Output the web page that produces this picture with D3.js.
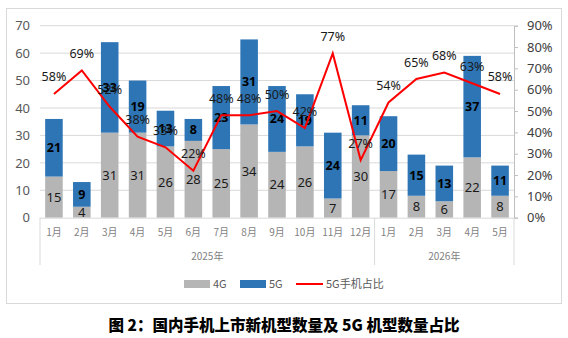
<!DOCTYPE html>
<html>
<head>
<meta charset="utf-8">
<script src="https://cdn.jsdelivr.net/npm/d3@7"></script>
<style>
  body { margin: 0; background: #fff; }
  svg { display: block; font-family: 'Noto Sans CJK SC', 'Noto Sans', sans-serif; }
</style>
</head>
<body>
<svg id="chart" width="568" height="338"></svg>
<script>
const months = ['1月', '2月', '3月', '4月', '5月', '6月', '7月', '8月', '9月', '10月', '11月', '12月',
  '1月', '2月', '3月', '4月', '5月']
const years = ['2025年', '2026年']
const yearOf = [0, 0, 0, 0, 0, 0, 0, 0, 0, 0, 0, 0, 1, 1, 1, 1, 1]
const g4 = [15, 4, 31, 31, 26, 28, 25, 34, 24, 26, 7, 30, 17, 8, 6, 22, 8]
const g5 = [21, 9, 33, 19, 13, 8, 23, 31, 24, 19, 24, 11, 20, 15, 13, 37, 11]
const share = [0.58, 0.69, 0.52, 0.38, 0.33, 0.22, 0.48, 0.48, 0.50, 0.42, 0.77, 0.27,
  0.54, 0.65, 0.68, 0.63, 0.58]
const leftTicks = [0, 10, 20, 30, 40, 50, 60, 70]
const rightTicks = [0, 0.1, 0.2, 0.3, 0.4, 0.5, 0.6, 0.7, 0.8, 0.9]

const colors = { g4: '#b5b5b5', g5: '#2e75b6', line: '#ff0000' }

const svg = d3.select('#chart')
const plot = { left: 40, right: 514, top: 25.7, bottom: 217.7 }

// outer frame
svg.append('rect')
  .attr('x', 6.5).attr('y', 8.5).attr('width', 555).attr('height', 295)
  .attr('fill', 'none').attr('stroke', '#d9d9d9')

const idx = d3.range(months.length)
const x = d3.scaleBand().domain(idx).range([plot.left, plot.right]).paddingInner(0.37).paddingOuter(0.185)
const y = d3.scaleLinear().domain([0, 70]).range([plot.bottom, plot.top])
const y2 = d3.scaleLinear().domain([0, 0.9]).range([plot.bottom, plot.top])

// grid
svg.append('g').selectAll('line').data(leftTicks.slice(1)).join('line')
  .attr('x1', plot.left).attr('x2', plot.right)
  .attr('y1', d => y(d)).attr('y2', d => y(d))
  .attr('stroke', '#d9d9d9')

// left axis labels
svg.append('g').attr('transform', `translate(${plot.left - 10},0)`)
  .call(d3.axisLeft(y).tickValues(leftTicks).tickSize(0).tickPadding(0))
  .call(g => g.select('.domain').remove())
  .call(g => g.selectAll('text').attr('font-size', 13).attr('fill', '#595959')
    .attr('font-family', "'Noto Sans', sans-serif"))

// right axis
svg.append('g').attr('transform', `translate(${plot.right},0)`)
  .call(d3.axisRight(y2).tickValues(rightTicks).tickSize(4).tickPadding(9).tickFormat(d3.format('.0%')))
  .call(g => g.select('.domain').attr('stroke', '#bfbfbf'))
  .call(g => g.selectAll('line').attr('stroke', '#bfbfbf'))
  .call(g => g.selectAll('text').attr('font-size', 13).attr('fill', '#404040')
    .attr('font-family', "'Noto Sans', sans-serif"))

// bars
const bars = svg.append('g')
bars.selectAll('.b4').data(idx).join('rect').attr('class', 'b4')
  .attr('x', i => x(i)).attr('width', x.bandwidth())
  .attr('y', i => y(g4[i])).attr('height', i => y(0) - y(g4[i]))
  .attr('fill', colors.g4)
bars.selectAll('.b5').data(idx).join('rect').attr('class', 'b5')
  .attr('x', i => x(i)).attr('width', x.bandwidth())
  .attr('y', i => y(g4[i] + g5[i])).attr('height', i => y(0) - y(g5[i]))
  .attr('fill', colors.g5)

// category axis
svg.append('line').attr('x1', plot.left).attr('x2', plot.right)
  .attr('y1', plot.bottom + 0.5).attr('y2', plot.bottom + 0.5)
  .attr('stroke', '#d9d9d9')
const seps = [plot.left, (x(11) + x.bandwidth() + x(12)) / 2, plot.right]
svg.append('g').selectAll('line').data(seps).join('line')
  .attr('x1', d => d).attr('x2', d => d).attr('y1', plot.bottom).attr('y2', 265)
  .attr('stroke', '#d9d9d9')
svg.append('g').selectAll('text').data(idx).join('text')
  .attr('x', i => x(i) + x.bandwidth() / 2).attr('y', 236)
  .attr('text-anchor', 'middle').attr('font-size', 10).attr('fill', '#7f7f7f')
  .text(i => months[i])
svg.append('g').selectAll('text').data(years).join('text')
  .attr('x', (d, k) => {
    const members = idx.filter(i => yearOf[i] === k)
    return (x(members[0]) + x(members[members.length - 1]) + x.bandwidth()) / 2
  })
  .attr('y', 260).attr('text-anchor', 'middle').attr('font-size', 10).attr('fill', '#7f7f7f')
  .text(d => d)

// bar labels
svg.append('g').selectAll('text').data(idx).join('text')
  .attr('x', i => x(i) + x.bandwidth() / 2).attr('y', i => (y(0) + y(g4[i])) / 2)
  .attr('dy', '0.36em').attr('text-anchor', 'middle').attr('font-size', 13).attr('fill', '#1a1a1a')
  .attr('font-family', "'Noto Sans', sans-serif")
  .text(i => g4[i])
svg.append('g').selectAll('text').data(idx).join('text')
  .attr('x', i => x(i) + x.bandwidth() / 2).attr('y', i => (y(g4[i]) + y(g4[i] + g5[i])) / 2)
  .attr('dy', '0.36em').attr('text-anchor', 'middle').attr('font-size', 12.5).attr('font-weight', 'bold')
  .attr('fill', '#000').attr('font-family', "'Noto Sans', sans-serif")
  .text(i => g5[i])

// share line
const line = d3.line().x(i => x(i) + x.bandwidth() / 2).y(i => y2(share[i]))
svg.append('path').datum(idx).attr('d', line)
  .attr('fill', 'none').attr('stroke', colors.line).attr('stroke-width', 2)
svg.append('g').selectAll('text').data(idx).join('text')
  .attr('x', i => x(i) + x.bandwidth() / 2).attr('y', i => y2(share[i]) - 17)
  .attr('dy', '0.36em').attr('text-anchor', 'middle').attr('font-size', 12.5).attr('fill', '#1a1a1a')
  .attr('font-family', "'Noto Sans', sans-serif")
  .text(i => d3.format('.0%')(share[i]))

// legend
const legend = svg.append('g').attr('font-size', 11).attr('fill', '#595959')
legend.append('rect').attr('x', 184).attr('y', 280).attr('width', 26).attr('height', 8).attr('fill', colors.g4)
legend.append('text').attr('x', 213).attr('y', 284).attr('dy', '0.36em').text('4G')
legend.append('rect').attr('x', 240).attr('y', 280).attr('width', 26).attr('height', 8).attr('fill', colors.g5)
legend.append('text').attr('x', 269).attr('y', 284).attr('dy', '0.36em').text('5G')
legend.append('line').attr('x1', 296).attr('x2', 323).attr('y1', 284).attr('y2', 284)
  .attr('stroke', colors.line).attr('stroke-width', 2)
legend.append('text').attr('x', 326).attr('y', 284).attr('dy', '0.36em').text('5G手机占比')

// title
svg.append('text').attr('x', 284).attr('y', 325).attr('dy', '0.36em')
  .attr('text-anchor', 'middle').attr('font-size', 15.5).attr('font-weight', 900).attr('fill', '#000')
  .text('图 2：国内手机上市新机型数量及 5G 机型数量占比')
</script>
</body>
</html>
